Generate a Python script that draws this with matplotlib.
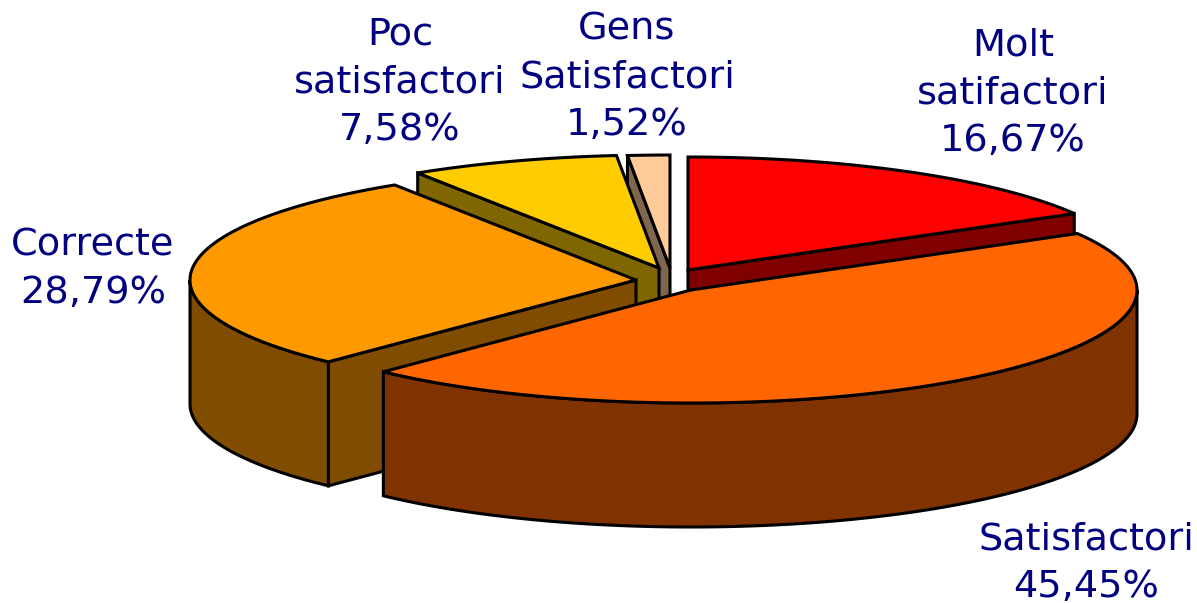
from matplotlib import pyplot as plt
import numpy as np

# slices clockwise from 12 o'clock
labels = ['Molt\nsatifactori', 'Satisfactori', 'Correcte', 'Poc\nsatisfactori', 'Gens\nSatisfactori']
values = [16.67, 45.45, 28.79, 7.58, 1.52]
value_text = ['16,67%', '45,45%', '28,79%', '7,58%', '1,52%']

top_colors = ['#FF0000', '#FF6600', '#FF9900', '#FFCC00', '#FFCC99']
side_colors = ['#800000', '#803300', '#804C00', '#806600', '#80664C']

# pie shape in pixels
rx = 446
ry = 113
depth = 124
centers = [(688, 270), (691, 290), (636, 280), (659, 268), (670, 268)]
label_pos = [(1013, 93), (1086, 563), (93, 269), (400, 82.5), (627, 77)]

fig = plt.figure(figsize=(11.97, 6.03), dpi=100)
ax = fig.add_axes([0, 0, 1, 1])
ax.set_xlim(0, 1197)
ax.set_ylim(603, 0)
ax.axis('off')

edges = np.cumsum([0] + values) / sum(values) * 2 * np.pi


def rim(c, a):
    return c[0] + rx * np.sin(a), c[1] - ry * np.cos(a)


def draw_slice(i, z):
    c = centers[i]
    a0, a1 = edges[i], edges[i + 1]
    kw = dict(edgecolor='black', linewidth=2.2, joinstyle='miter', zorder=z)

    # cut faces, only the ones looking at the viewer
    x0, y0 = rim(c, a0)
    x1, y1 = rim(c, a1)
    if np.sin(a0) < -1e-6:
        ax.fill([c[0], x0, x0, c[0]], [c[1], y0, y0 + depth, c[1] + depth],
                facecolor=side_colors[i], **kw)
    if np.sin(a1) > 1e-6:
        ax.fill([c[0], x1, x1, c[0]], [c[1], y1, y1 + depth, c[1] + depth],
                facecolor=side_colors[i], **kw)

    # outer wall, the part on the front half
    lo, hi = max(a0, np.pi / 2), min(a1, 3 * np.pi / 2)
    if lo < hi:
        t = np.linspace(lo, hi, 200)
        wx, wy = rim(c, t)
        ax.fill(np.r_[wx, wx[::-1]], np.r_[wy, wy[::-1] + depth],
                facecolor=side_colors[i], **kw)

    # top face
    t = np.linspace(a0, a1, 200)
    tx, ty = rim(c, t)
    ax.fill(np.r_[c[0], tx], np.r_[c[1], ty], facecolor=top_colors[i], **kw)


# back slices first so the front ones cover them
for z, i in enumerate([4, 3, 0, 2, 1]):
    draw_slice(i, z)

for lab, val, pos in zip(labels, value_text, label_pos):
    ax.text(pos[0], pos[1], lab + '\n' + val, ha='center', va='center', color='#000080',
            fontsize=27.5, family='DejaVu Sans', linespacing=1.42, zorder=10)

fig.savefig('out.png', dpi=100)
